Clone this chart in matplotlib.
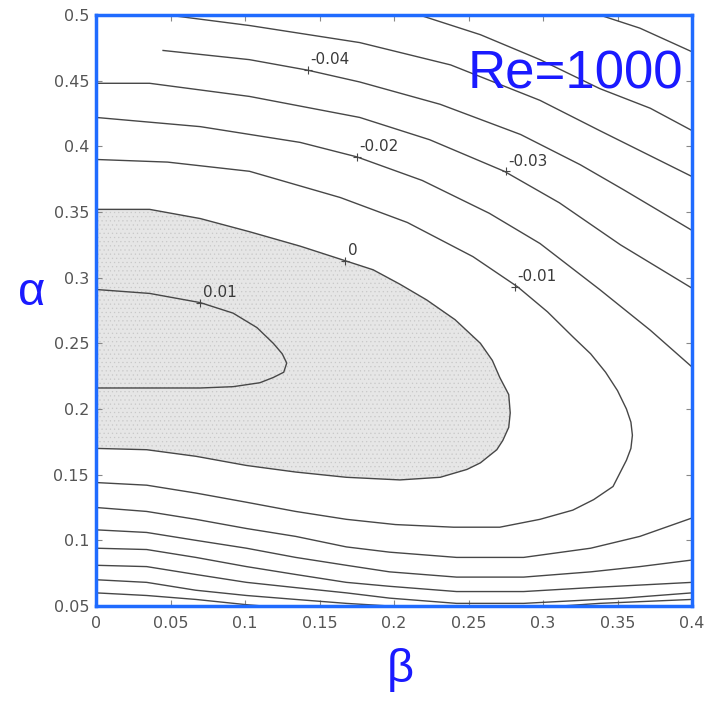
import matplotlib
matplotlib.use('Agg')
import matplotlib.pyplot as plt

# contour lines: beta (x) and alpha (y) for each level
# 0.01 (closed against the left edge)
beta_p01 = [0, 0.036, 0.070, 0.092, 0.108, 0.119, 0.125, 0.128, 0.126, 0.119, 0.110,
            0.092, 0.070, 0.036, 0]
alpha_p01 = [0.291, 0.288, 0.281, 0.273, 0.262, 0.250, 0.242, 0.235, 0.228, 0.224, 0.220,
             0.217, 0.216, 0.216, 0.216]

# 0 (edge of the shaded region)
beta_0 = [0, 0.036, 0.070, 0.103, 0.137, 0.167, 0.186, 0.204, 0.222, 0.241, 0.258, 0.266,
          0.271, 0.277, 0.278, 0.277, 0.273, 0.269, 0.258, 0.249, 0.231, 0.204, 0.168,
          0.134, 0.101, 0.067, 0.034, 0]
alpha_0 = [0.352, 0.352, 0.345, 0.335, 0.324, 0.313, 0.306, 0.295, 0.283, 0.268, 0.250, 0.237,
           0.224, 0.211, 0.197, 0.186, 0.176, 0.169, 0.159, 0.154, 0.148, 0.146, 0.148,
           0.152, 0.157, 0.164, 0.169, 0.170]

# -0.01
beta_m01 = [0, 0.048, 0.103, 0.164, 0.209, 0.253, 0.283, 0.303, 0.320, 0.332, 0.342, 0.350,
            0.356, 0.359, 0.360, 0.359, 0.356, 0.347, 0.334, 0.320, 0.298, 0.271, 0.240,
            0.201, 0.168, 0.134, 0.101, 0.067, 0.034, 0]
alpha_m01 = [0.390, 0.388, 0.381, 0.361, 0.342, 0.316, 0.293, 0.274, 0.255, 0.242, 0.228, 0.214,
             0.200, 0.190, 0.180, 0.170, 0.161, 0.141, 0.131, 0.123, 0.116, 0.110, 0.110,
             0.112, 0.116, 0.122, 0.129, 0.136, 0.142, 0.144]

# -0.02, upper and lower parts
beta_m02_up = [0, 0.070, 0.137, 0.175, 0.219, 0.264, 0.298, 0.338, 0.372, 0.4]
alpha_m02_up = [0.422, 0.415, 0.403, 0.392, 0.374, 0.349, 0.326, 0.291, 0.260, 0.232]
beta_m02_lo = [0, 0.034, 0.067, 0.101, 0.134, 0.168, 0.197, 0.242, 0.287, 0.332, 0.365, 0.4]
alpha_m02_lo = [0.125, 0.122, 0.116, 0.109, 0.103, 0.095, 0.091, 0.087, 0.087, 0.094, 0.103, 0.117]

# -0.03
beta_m03_up = [0, 0.036, 0.103, 0.177, 0.224, 0.274, 0.311, 0.352, 0.4]
alpha_m03_up = [0.448, 0.448, 0.438, 0.422, 0.405, 0.381, 0.357, 0.325, 0.292]
beta_m03_lo = [0, 0.034, 0.067, 0.101, 0.134, 0.168, 0.197, 0.242, 0.287, 0.332, 0.365, 0.4]
alpha_m03_lo = [0.108, 0.106, 0.100, 0.094, 0.087, 0.081, 0.076, 0.072, 0.072, 0.076, 0.080, 0.085]

# -0.04
beta_m04_up = [0.045, 0.103, 0.142, 0.177, 0.231, 0.285, 0.325, 0.354, 0.4]
alpha_m04_up = [0.473, 0.466, 0.458, 0.449, 0.432, 0.409, 0.386, 0.367, 0.336]
beta_m04_lo = [0, 0.034, 0.067, 0.101, 0.134, 0.168, 0.197, 0.242, 0.287, 0.332, 0.4]
alpha_m04_lo = [0.094, 0.093, 0.087, 0.080, 0.074, 0.068, 0.065, 0.061, 0.061, 0.064, 0.068]

# -0.05
beta_m05_up = [0.048, 0.103, 0.177, 0.238, 0.298, 0.338, 0.4]
alpha_m05_up = [0.500, 0.492, 0.479, 0.462, 0.435, 0.412, 0.377]
beta_m05_lo = [0, 0.034, 0.067, 0.101, 0.134, 0.168, 0.197, 0.242, 0.287, 0.354, 0.4]
alpha_m05_lo = [0.081, 0.080, 0.074, 0.068, 0.064, 0.060, 0.056, 0.052, 0.052, 0.056, 0.060]

# -0.06
beta_m06_up = [0.217, 0.258, 0.298, 0.338, 0.372, 0.4]
alpha_m06_up = [0.500, 0.485, 0.466, 0.444, 0.429, 0.412]
beta_m06_lo = [0, 0.034, 0.067, 0.101, 0.134, 0.168, 0.197, 0.242, 0.287, 0.338, 0.4]
alpha_m06_lo = [0.070, 0.068, 0.062, 0.058, 0.055, 0.052, 0.050, 0.048, 0.048, 0.052, 0.055]

# -0.07
beta_m07_up = [0.338, 0.365, 0.4]
alpha_m07_up = [0.500, 0.490, 0.472]
beta_m07_lo = [0, 0.034, 0.067, 0.101, 0.134]
alpha_m07_lo = [0.060, 0.058, 0.055, 0.051, 0.048]

# inline labels: text and the point marked with '+'
label_text = ['-0.04', '-0.02', '-0.03', '0', '0.01', '-0.01']
label_beta = [0.142, 0.175, 0.275, 0.167, 0.070, 0.281]
label_alpha = [0.458, 0.392, 0.381, 0.313, 0.281, 0.293]

xticks = [0, 0.05, 0.1, 0.15, 0.2, 0.25, 0.3, 0.35, 0.4]
xtick_labels = ['0', '0.05', '0.1', '0.15', '0.2', '0.25', '0.3', '0.35', '0.4']
yticks = [0.05, 0.1, 0.15, 0.2, 0.25, 0.3, 0.35, 0.4, 0.45, 0.5]
ytick_labels = ['0.05', '0.1', '0.15', '0.2', '0.25', '0.3', '0.35', '0.4', '0.45', '0.5']

blue = '#1a1aff'
line_col = '#474747'
plt.rcParams['hatch.linewidth'] = 0.4

fig = plt.figure(figsize=(7.08, 7.06), dpi=100)
ax = fig.add_axes([96 / 708, 1 - 606 / 706, 596 / 708, 591 / 706])

# shaded region inside the zero contour
ax.fill(beta_0, alpha_0, facecolor='#e6e6e6', edgecolor='#c8c8c8', hatch='....', lw=0)

lines = [(beta_p01, alpha_p01), (beta_0, alpha_0), (beta_m01, alpha_m01),
         (beta_m02_up, alpha_m02_up), (beta_m02_lo, alpha_m02_lo),
         (beta_m03_up, alpha_m03_up), (beta_m03_lo, alpha_m03_lo),
         (beta_m04_up, alpha_m04_up), (beta_m04_lo, alpha_m04_lo),
         (beta_m05_up, alpha_m05_up), (beta_m05_lo, alpha_m05_lo),
         (beta_m06_up, alpha_m06_up), (beta_m06_lo, alpha_m06_lo),
         (beta_m07_up, alpha_m07_up), (beta_m07_lo, alpha_m07_lo)]
for b, a in lines:
    ax.plot(b, a, color=line_col, lw=1.0, solid_joinstyle='round')

for t, b, a in zip(label_text, label_beta, label_alpha):
    ax.plot(b, a, marker='+', color=line_col, ms=6, mew=0.8)
    ax.annotate(t, (b, a), xytext=(2, 2), textcoords='offset points',
                ha='left', va='bottom', fontsize=11, color='#3a3a3a')

ax.set_xlim(0, 0.4)
ax.set_ylim(0.05, 0.5)
ax.set_xticks(xticks)
ax.set_xticklabels(xtick_labels)
ax.set_yticks(yticks)
ax.set_yticklabels(ytick_labels)
ax.tick_params(direction='in', length=4, width=0.8, color='#888888',
               labelsize=11.5, labelcolor='#555555', top=True, right=True)
ax.tick_params(axis='x', pad=7)
ax.tick_params(axis='y', pad=5)
for s in ax.spines.values():
    s.set_color('#1f6bff')
    s.set_linewidth(2.5)

ax.text(0.985, 0.876, 'Re=1000', transform=ax.transAxes, ha='right', va='baseline',
        fontsize=38, color=blue, family='Liberation Sans')
fig.text(32 / 708, 1 - 293 / 706, 'α', ha='center', va='center', fontsize=34,
         color=blue, family='Liberation Sans')
fig.text(400 / 708, 1 - 670 / 706, 'β', ha='center', va='center', fontsize=34,
         color=blue, family='Liberation Sans')

fig.savefig('out.png', dpi=100)
